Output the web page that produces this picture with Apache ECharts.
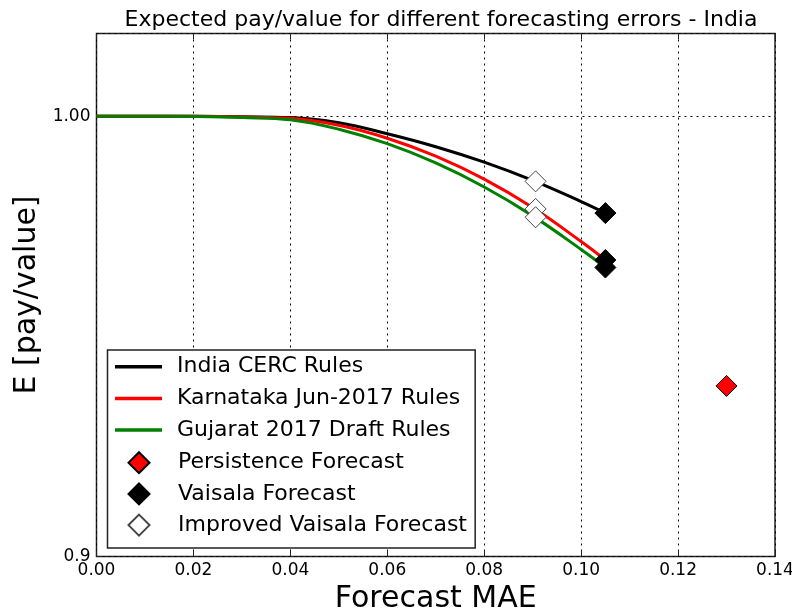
<!DOCTYPE html>
<html>
<head>
<meta charset="utf-8">
<script src="https://cdn.jsdelivr.net/npm/echarts@6/dist/echarts.min.js"></script>
<style>
  html, body { margin: 0; padding: 0; background: #fff; }
  #chart { width: 792px; height: 616px; }
</style>
</head>
<body>
<div id="chart"></div>
<script>
// Forecast MAE sample points for the rule curves
const maeGrid = [0, 0.01, 0.02, 0.03, 0.04, 0.05, 0.06, 0.07, 0.08, 0.09, 0.10, 0.105];

// Expected pay/value under each rule set
const cercRules      = [1.0, 1.0, 1.0, 0.99988, 0.99969, 0.99845, 0.99583, 0.99274, 0.98907, 0.98476, 0.97978, 0.97709];
const karnatakaRules = [1.0, 1.0, 1.0, 0.99983, 0.99952, 0.99785, 0.99476, 0.99049, 0.98506, 0.97838, 0.97046, 0.96618];
const gujaratRules   = [1.0, 1.0, 0.99993, 0.99969, 0.99916, 0.99690, 0.99345, 0.98888, 0.98320, 0.97644, 0.96861, 0.96445];

// Forecast points
const persistenceMae = [0.13];
const persistenceVal = [0.9375];
const vaisalaMae = [0.105, 0.105, 0.105];
const vaisalaVal = [0.97709, 0.96618, 0.96445];
const improvedMae = [0.0906, 0.0906, 0.0906];
const improvedVal = [0.98454, 0.97807, 0.97612];

const xTicks = [0, 0.02, 0.04, 0.06, 0.08, 0.10, 0.12, 0.14];

const zip = (xs, ys) => xs.map((x, i) => [x, ys[i]]);

const FONT = 'DejaVu Sans';
const chart = echarts.init(document.getElementById('chart'), null, { renderer: 'canvas' });

const lineSeries = (name, color, values) => ({
  name, type: 'line', data: zip(maeGrid, values),
  symbol: 'none', showSymbol: false, smooth: 0.4, lineStyle: { color, width: 3 }, itemStyle: { color },
  xAxisIndex: 0, yAxisIndex: 0, z: 2
});
const markerSeries = (name, fill, edge, xs, ys) => ({
  name, type: 'scatter', data: zip(xs, ys), symbol: 'diamond', symbolSize: 21,
  itemStyle: { color: fill, borderColor: edge, borderWidth: 1, opacity: 1 },
  xAxisIndex: 0, yAxisIndex: 0, z: 5
});

const option = {
  animation: false,
  backgroundColor: '#ffffff',
  textStyle: { fontFamily: FONT },
  title: {
    text: 'Expected pay/value for different forecasting errors - India',
    left: 436, top: 4, textAlign: 'center',
    textStyle: { fontFamily: FONT, fontSize: 22, fontWeight: 'normal', color: '#000' }
  },
  grid: {
    left: 96.5, right: 17, top: 33.5, bottom: 59.5,
    outerBoundsMode: 'none', containLabel: false,
    show: true, borderColor: '#222', borderWidth: 1.5, backgroundColor: '#fff'
  },
  xAxis: [{
    type: 'value', min: 0, max: 0.14, interval: 0.02, position: 'bottom',
    name: 'Forecast MAE', nameLocation: 'middle', nameGap: 27,
    nameTextStyle: { fontFamily: FONT, fontSize: 30, color: '#000' },
    axisLine: { show: false },
    axisTick: { show: true, inside: true, length: 6, lineStyle: { color: '#222' } },
    axisLabel: { fontFamily: FONT, fontSize: 17, color: '#000', margin: 6,
      formatter: v => { const t = xTicks.find(k => Math.abs(k - v) < 1e-9); return t === undefined ? '' : t.toFixed(2); } },
    splitLine: { show: true, lineStyle: { color: '#000', type: [2, 4], width: 1 } }
  }, {
    type: 'value', min: 0, max: 0.14, interval: 0.02, position: 'top',
    axisLine: { show: false }, axisLabel: { show: false },
    axisTick: { show: true, inside: true, length: 6, lineStyle: { color: '#222' } },
    splitLine: { show: false }
  }],
  yAxis: [{
    type: 'log', logBase: 10, min: 0.9, max: 1.02, position: 'left',
    name: 'E [pay/value]', nameLocation: 'middle', nameGap: 48,
    nameTextStyle: { fontFamily: FONT, fontSize: 30, color: '#000' },
    axisLine: { show: false },
    axisTick: { show: true, inside: true, length: 6, lineStyle: { color: '#222' } },
    axisLabel: { fontFamily: FONT, fontSize: 17, color: '#000', margin: 6, showMaxLabel: false,
      formatter: v => Math.abs(v - 1) < 1e-6 ? '1.00' : (Math.abs(v - 0.9) < 1e-6 ? '0.9' : '') },
    splitLine: { show: true, lineStyle: { color: '#000', type: [2, 4], width: 1 } }
  }],
  legend: [{
    data: [
      { name: 'India CERC Rules', icon: 'rect' },
      { name: 'Karnataka Jun-2017 Rules', icon: 'rect' },
      { name: 'Gujarat 2017 Draft Rules', icon: 'rect' }
    ],
    orient: 'vertical', left: 107.5, top: 350,
    padding: [4.7, 15, 106, 7.5],
    itemWidth: 47, itemHeight: 3.5, itemGap: 7.7,
    borderColor: '#222', borderWidth: 1.5, backgroundColor: '#fff',
    textStyle: { fontFamily: FONT, fontSize: 22, color: '#000', lineHeight: 24, padding: [0, 0, 0, 10] },
    z: 10
  }, {
    data: [
      { name: 'Persistence Forecast', icon: 'diamond' },
      { name: 'Vaisala Forecast', icon: 'diamond' },
      { name: 'Improved Vaisala Forecast', icon: 'diamond' }
    ],
    orient: 'vertical', left: 127.5, top: 450.7, padding: 0,
    itemWidth: 21, itemHeight: 21, itemGap: 7.2,
    textStyle: { fontFamily: FONT, fontSize: 22, color: '#000', lineHeight: 24, padding: [0, 0, 0, 23.5] },
    z: 11
  }],
  series: [
    lineSeries('India CERC Rules', '#000000', cercRules),
    lineSeries('Karnataka Jun-2017 Rules', '#ff0000', karnatakaRules),
    lineSeries('Gujarat 2017 Draft Rules', '#008000', gujaratRules),
    markerSeries('Persistence Forecast', '#ff0000', '#000', persistenceMae, persistenceVal),
    markerSeries('Vaisala Forecast', '#000000', '#000', vaisalaMae, vaisalaVal),
    markerSeries('Improved Vaisala Forecast', '#ffffff', '#444', improvedMae, improvedVal)
  ]
};
chart.setOption(option);
</script>
</body>
</html>
